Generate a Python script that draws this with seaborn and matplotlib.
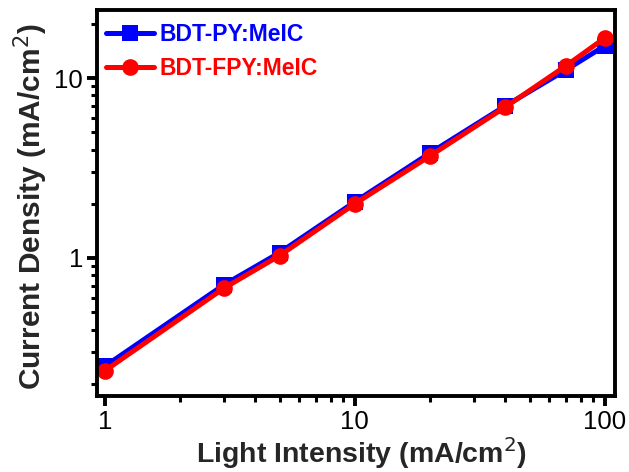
import matplotlib
matplotlib.use("Agg")
import matplotlib.pyplot as plt
import seaborn as sns
import pandas as pd
from matplotlib.ticker import LogLocator, NullFormatter, FixedLocator, FixedFormatter

light = [1, 3, 5, 10, 20, 40, 70, 100]
jsc_py = [0.25, 0.71, 1.07, 2.05, 3.83, 7.0, 11.1, 15.1]
jsc_fpy = [0.236, 0.68, 1.03, 2.0, 3.69, 6.9, 11.7, 16.7]
series = ["BDT-PY:MeIC", "BDT-FPY:MeIC"]
colors = ["#0000ff", "#ff0000"]
markers = ["s", "o"]

sns.set_style("ticks")
plt.rcParams['font.family'] = ['Liberation Sans', 'DejaVu Sans']

df = pd.DataFrame({
    "x": light * 2,
    "y": jsc_py + jsc_fpy,
    "s": [series[0]] * len(light) + [series[1]] * len(light),
})

fig = plt.figure(figsize=(6.29, 4.72), dpi=100)
ax = fig.add_axes([0.154, 0.161, 0.824, 0.818])

sns.lineplot(data=df, x="x", y="y", hue="s", style="s", palette=colors,
             markers=markers, dashes=False, ax=ax, linewidth=3.6,
             markersize=12, markeredgewidth=0)

ax.set_xscale("log")
ax.set_yscale("log")
ax.set_xlim(0.93, 110)
ax.set_ylim(0.171, 23.9)

ax.xaxis.set_major_locator(FixedLocator([1, 10, 100]))
ax.xaxis.set_major_formatter(FixedFormatter(["1", "10", "100"]))
ax.yaxis.set_major_locator(FixedLocator([1, 10]))
ax.yaxis.set_major_formatter(FixedFormatter(["1", "10"]))
ax.xaxis.set_minor_locator(LogLocator(base=10, subs=range(2, 10)))
ax.yaxis.set_minor_locator(LogLocator(base=10, subs=range(2, 10)))
ax.xaxis.set_minor_formatter(NullFormatter())
ax.yaxis.set_minor_formatter(NullFormatter())

for sp in ax.spines.values():
    sp.set_linewidth(2.8)
    sp.set_color("black")
    sp.set_visible(True)

ax.tick_params(which="major", direction="out", length=7, width=2.8, pad=3,
               labelsize=18.5, colors="black")
ax.tick_params(which="minor", direction="out", length=4, width=2.2, colors="black")

ax.set_xlabel("Light Intensity (mA/cm$^2$)", fontsize=20.5, fontweight="bold")
ax.set_ylabel("Current Density (mA/cm$^2$)", fontsize=21.5, fontweight="bold")
ax.xaxis.set_label_coords(0.51, -0.102)
ax.yaxis.set_label_coords(-0.09, 0.49)

leg = ax.legend(loc="upper left", bbox_to_anchor=(0.017, 0.965), frameon=False,
                fontsize=16.5, handlelength=2.1, borderaxespad=0, borderpad=0,
                labelspacing=0.45, handletextpad=0.25)
for txt, c in zip(leg.get_texts(), colors):
    txt.set_color(c)
    txt.set_fontweight("bold")

fig.savefig("out.png", dpi=100)
